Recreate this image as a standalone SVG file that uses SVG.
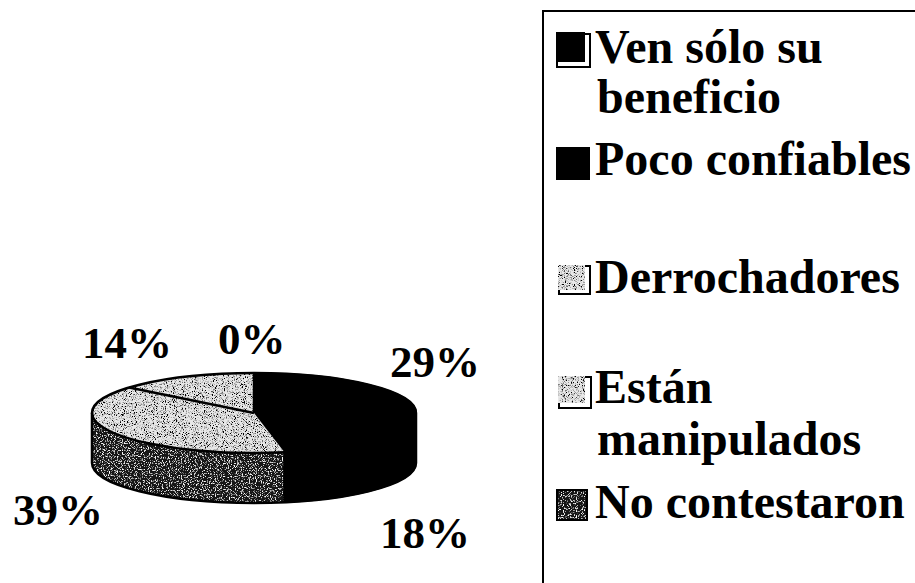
<svg xmlns="http://www.w3.org/2000/svg" width="915" height="583" viewBox="0 0 915 583">
<style>
.lbl{font-family:"Liberation Serif","Times New Roman",serif;font-weight:bold;font-size:45px;fill:#000}
.leg{font-family:"Liberation Serif","Times New Roman",serif;font-weight:bold;font-size:48px;fill:#000}
.edge{fill:none;stroke:#000;stroke-width:2.5;stroke-linejoin:round}
.light{fill:#e8e8e8;filter:url(#speckLight)}
.dark{fill:#121212;filter:url(#speckDark)}
.black{fill:#000;stroke:#000;stroke-width:1.5;stroke-linejoin:round}
</style>
<defs>
<filter id="speckLight" x="0" y="0" width="1" height="1">
<feTurbulence type="fractalNoise" baseFrequency="1.1" numOctaves="2" seed="4" result="noise"/>
<feColorMatrix in="noise" type="matrix" values="0 0 0 0 0  0 0 0 0 0  0 0 0 0 0  5 0 0 0 -2.45" result="dots"/>
<feComposite in="dots" in2="SourceGraphic" operator="in" result="clip"/>
<feMerge><feMergeNode in="SourceGraphic"/><feMergeNode in="clip"/></feMerge>
</filter>
<filter id="speckDark" x="0" y="0" width="1" height="1">
<feTurbulence type="fractalNoise" baseFrequency="0.85" numOctaves="2" seed="4" result="noise"/>
<feColorMatrix in="noise" type="matrix" values="0 0 0 0 1  0 0 0 0 1  0 0 0 0 1  5 0 0 0 -2.72" result="dots"/>
<feComposite in="dots" in2="SourceGraphic" operator="in" result="clip"/>
<feMerge><feMergeNode in="SourceGraphic"/><feMergeNode in="clip"/></feMerge>
</filter>
</defs>
<rect width="915" height="583" fill="#fff"/>

<g id="pie">
  <g id="side-black"><path class="black" d="M416,413 L416,463 A162,40 0 0 1 284.4,502.3 L284.4,452.3 A162,40 0 0 0 416,413 Z"/></g>
  <g id="side-derrochadores"><path class="dark" d="M284.4,452.3 A162,40 0 0 1 92,413 L92,463 A162,40 0 0 0 284.4,502.3 Z"/></g>
  <g id="slice-ven-poco"><path class="black" d="M254,413 L254,373 A162,40 0 0 1 284.4,452.3 Z"/></g>
  <g id="slice-derrochadores"><path class="light" d="M254,413 L284.4,452.3 A162,40 0 0 1 129.2,387.5 Z"/></g>
  <g id="slice-estan"><path class="light" d="M254,413 L129.2,387.5 A162,40 0 0 1 254,373 Z"/></g>
  <path class="edge" d="M254,373 A162,40 0 0 1 416,413 L416,463 A162,40 0 0 1 92,463 L92,413 A162,40 0 0 1 254,373 Z"/>
  <path class="edge" d="M92,413 A162,40 0 0 0 284.4,452.3 L284.4,502.3"/>
  <path class="edge" d="M254,413 L129.2,387.5"/>
  <path class="edge" d="M254,413 L254,373"/>
</g>

<g id="pie-labels">
  <text class="lbl" x="82" y="358">14%</text>
  <text class="lbl" x="218" y="354">0%</text>
  <text class="lbl" x="390" y="377">29%</text>
  <text class="lbl" x="13" y="525">39%</text>
  <text class="lbl" x="380" y="548">18%</text>
</g>

<g id="legend">
  <path d="M543,583 L543,11 L915,11" fill="none" stroke="#000" stroke-width="2"/>
  <g id="leg-ven">
    <rect x="557" y="34" width="33" height="33" fill="#fff" stroke="#000" stroke-width="2"/>
    <rect x="556" y="32" width="29" height="30" fill="#000"/>
    <text class="leg" x="595" y="63">Ven sólo su</text>
    <text class="leg" x="597" y="113">beneficio</text>
  </g>
  <g id="leg-poco">
    <rect x="556" y="147" width="34" height="33" fill="#000"/>
    <text class="leg" x="595" y="175">Poco confiables</text>
  </g>
  <g id="leg-derrochadores">
    <rect x="559" y="266" width="31" height="28" fill="#fff" stroke="#000" stroke-width="2"/>
    <rect x="558" y="265" width="27" height="25" class="light"/>
    <text class="leg" x="595" y="293">Derrochadores</text>
  </g>
  <g id="leg-estan">
    <rect x="559" y="377" width="32" height="31" fill="#fff" stroke="#000" stroke-width="2"/>
    <rect x="558" y="376" width="27" height="27" class="light"/>
    <text class="leg" x="595" y="403">Están</text>
    <text class="leg" x="597" y="455">manipulados</text>
  </g>
  <g id="leg-no">
    <rect x="557" y="490" width="30" height="30" class="dark"/>
    <rect x="557" y="490" width="30" height="30" fill="none" stroke="#000" stroke-width="2"/>
    <text class="leg" x="595" y="518">No contestaron</text>
  </g>
</g>
</svg>
